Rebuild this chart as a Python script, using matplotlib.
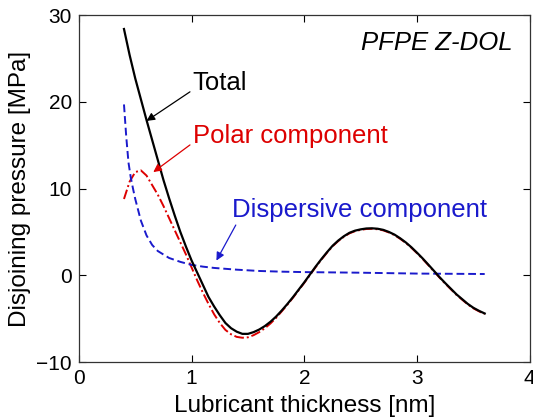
import matplotlib
matplotlib.use('Agg')
import matplotlib.pyplot as plt

plt.rcParams['font.family'] = ['Liberation Sans', 'DejaVu Sans']

'''Data read off the figure'''
thickness = [0.40, 0.45, 0.50, 0.55, 0.60, 0.65, 0.70, 0.75, 0.80, 0.85,
             0.90, 0.95, 1.00, 1.05, 1.10, 1.15, 1.20, 1.25, 1.30, 1.35,
             1.40, 1.45, 1.50, 1.55, 1.60, 1.65, 1.70, 1.75, 1.80, 1.85,
             1.90, 1.95, 2.00, 2.05, 2.10, 2.15, 2.20, 2.25, 2.30, 2.35,
             2.40, 2.45, 2.50, 2.55, 2.60, 2.65, 2.70, 2.75, 2.80, 2.85,
             2.90, 2.95, 3.00, 3.05, 3.10, 3.15, 3.20, 3.25, 3.30, 3.35,
             3.40, 3.45, 3.50, 3.55, 3.60]
total = [28.4, 25.4, 22.7, 20.3, 17.9, 15.6, 13.3, 11.0, 8.9, 6.9,
         5.0, 3.3, 1.7, 0.3, -1.1, -2.5, -3.6, -4.6, -5.5, -6.1,
         -6.5, -6.75, -6.75, -6.55, -6.25, -5.85, -5.35, -4.75, -4.05, -3.3,
         -2.5, -1.65, -0.8, 0.1, 1.0, 1.85, 2.65, 3.4, 4.0, 4.5,
         4.9, 5.15, 5.3, 5.4, 5.42, 5.37, 5.24, 5.0, 4.69, 4.27,
         3.79, 3.23, 2.6, 1.94, 1.23, 0.51, -0.22, -0.9, -1.55, -2.2,
         -2.75, -3.3, -3.75, -4.1, -4.4]
polar = [8.8, 10.8, 11.9, 12.1, 11.5, 10.4, 9.3, 8.0, 6.6, 5.2,
         3.8, 2.4, 0.9, -0.6, -2.0, -3.3, -4.5, -5.5, -6.3, -6.8,
         -7.1, -7.2, -7.15, -6.9, -6.55, -6.1, -5.55, -4.9, -4.15, -3.38,
         -2.57, -1.72, -0.86, 0.04, 0.94, 1.79, 2.59, 3.34, 3.94, 4.44,
         4.84, 5.09, 5.24, 5.34, 5.36, 5.31, 5.18, 4.94, 4.63, 4.21,
         3.73, 3.17, 2.54, 1.88, 1.17, 0.45, -0.28, -0.96, -1.61, -2.26,
         -2.81, -3.36, -3.81, -4.16, -4.46]
disp_x = [0.40, 0.42, 0.44, 0.46, 0.48, 0.50, 0.55, 0.60, 0.65, 0.70,
          0.80, 0.90, 1.00, 1.10, 1.20, 1.40, 1.60, 1.80, 2.00, 2.50,
          3.00, 3.60]
dispersive = [19.7, 16.0, 13.0, 11.3, 10.0, 8.8, 6.3, 4.6, 3.5, 2.8,
              2.0, 1.55, 1.2, 1.0, 0.85, 0.65, 0.5, 0.42, 0.37, 0.3,
              0.2, 0.15]

red = '#dd0000'
blue = '#1a1acc'

fig = plt.figure(figsize=(5.33, 4.2), dpi=100)
ax = fig.add_axes([0.148, 0.138, 0.846, 0.826])

ax.plot(thickness, polar, color=red, lw=1.4, dashes=(5, 1.5, 1, 1.5))
ax.plot(disp_x, dispersive, color=blue, lw=1.4, dashes=(4, 2))
ax.plot(thickness, total, color='black', lw=1.6)

ax.annotate('Total', xy=(0.60, 17.8), xytext=(1.01, 22.2), fontsize=18.5,
            ha='left', va='center',
            arrowprops=dict(arrowstyle='-|>', color='black', lw=0.9,
                            mutation_scale=12, relpos=(0, 0.2), shrinkA=0, shrinkB=0))
ax.annotate('Polar component', xy=(0.66, 11.9), xytext=(1.01, 16.1), fontsize=18.5,
            color=red, ha='left', va='center',
            arrowprops=dict(arrowstyle='-|>', color=red, lw=0.9,
                            mutation_scale=12, relpos=(0, 0.2), shrinkA=0, shrinkB=0))
ax.annotate('Dispersive component', xy=(1.22, 1.7), xytext=(1.36, 7.5), fontsize=18.5,
            color=blue, ha='left', va='center',
            arrowprops=dict(arrowstyle='-|>', color=blue, lw=0.9,
                            mutation_scale=12, relpos=(0.02, 0.0), shrinkA=0, shrinkB=0))
ax.text(3.85, 26.8, 'PFPE Z-DOL', fontsize=18.5, style='italic', ha='right', va='center')

ax.set_xlim(0, 4)
ax.set_ylim(-10, 30)
ax.set_xticks([0, 1, 2, 3, 4])
ax.set_yticks([-10, 0, 10, 20, 30])
ax.tick_params(direction='in', top=True, right=True, length=5, width=0.8,
               labelsize=15, pad=5)
for s in ax.spines.values():
    s.set_linewidth(0.9)
    s.set_color('#333333')
ax.set_xlabel('Lubricant thickness [nm]', fontsize=17.5, labelpad=5)
ax.set_ylabel('Disjoining pressure [MPa]', fontsize=17.5, labelpad=4)

fig.savefig('out.png', dpi=100)
